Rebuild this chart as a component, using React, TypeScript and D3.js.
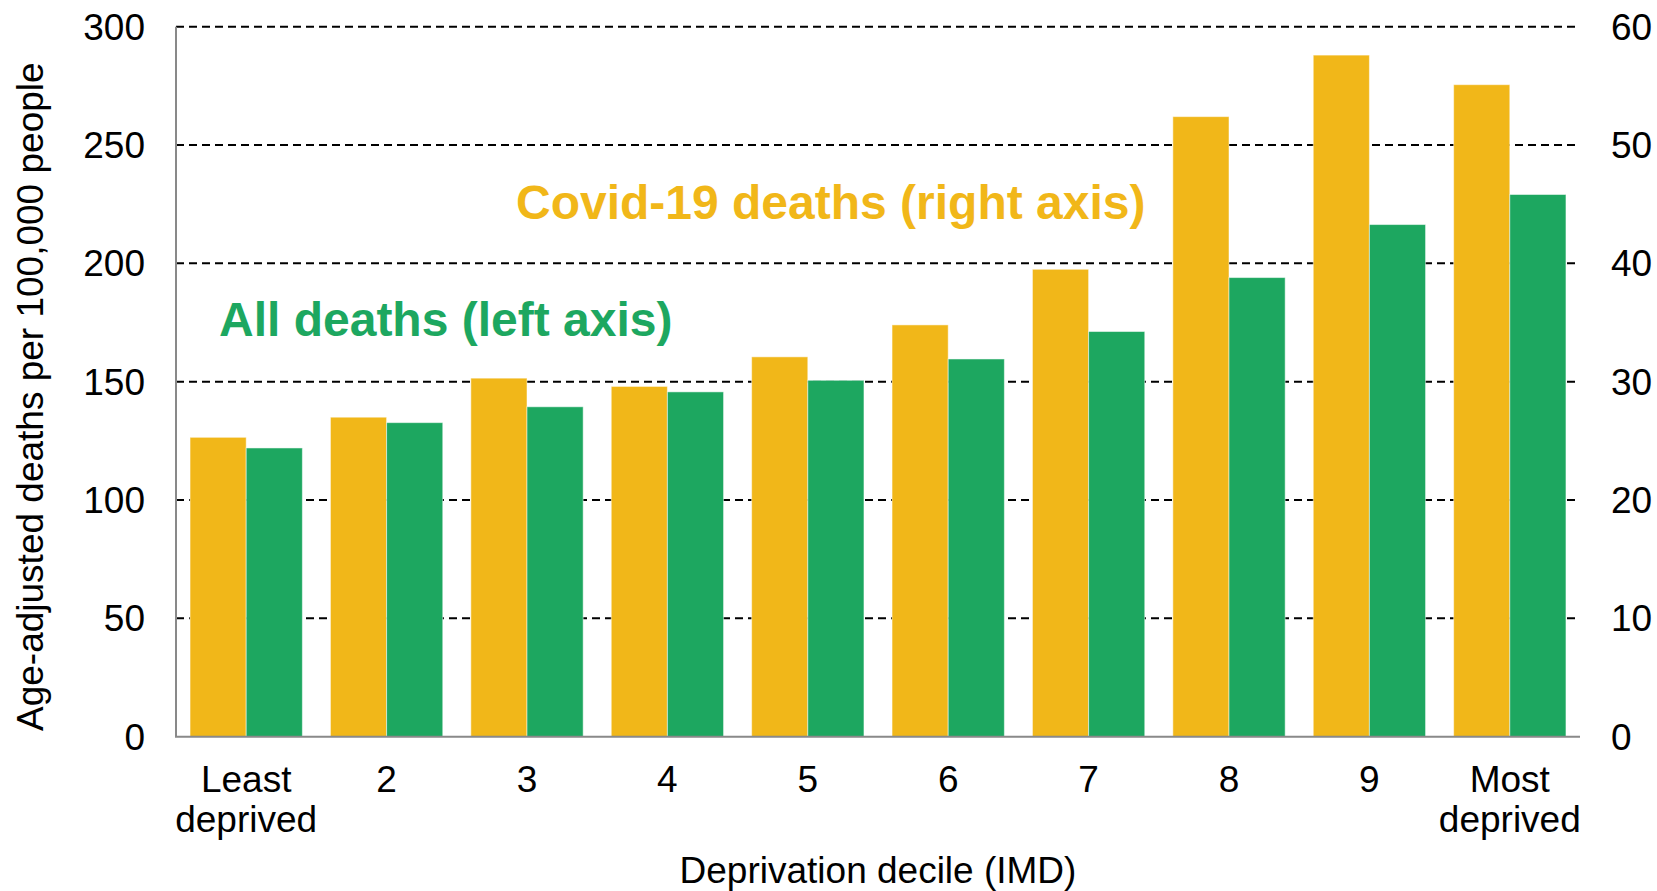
import * as d3 from "d3";

const categories = ["Least deprived", "2", "3", "4", "5", "6", "7", "8", "9", "Most deprived"];
const covidDeaths = [25.3, 27.0, 30.3, 29.6, 32.1, 34.8, 39.5, 52.4, 57.6, 55.1];
const allDeaths = [122, 132.7, 139.4, 145.7, 150.6, 159.6, 171.2, 194, 216.4, 229.1];
const seriesKeys = ["covid", "all"];

const W = 1657;
const H = 891;
const PLOT = { left: 176, right: 1580, top: 26.7, bottom: 736.7 };
const FONT = "'Liberation Sans', Arial, Helvetica, sans-serif";
const YELLOW = "#F1B719";
const GREEN = "#1DA760";

const App = () => {
  const x0 = d3
    .scaleBand<string>()
    .domain(categories)
    .range([PLOT.left, PLOT.right])
    .paddingInner(0.2)
    .paddingOuter(0.1);
  const x1 = d3.scaleBand<string>().domain(seriesKeys).range([0, x0.bandwidth()]);

  const yLeft = d3.scaleLinear().domain([0, 300]).range([PLOT.bottom, PLOT.top]);
  const yRight = d3.scaleLinear().domain([0, 60]).range([PLOT.bottom, PLOT.top]);

  const leftTicks = yLeft.ticks(6);
  const rightTicks = yRight.ticks(6);

  return (
    <div style={{ position: "absolute", left: 0, top: 0 }}>
      <svg width={W} height={H} viewBox={`0 0 ${W} ${H}`} style={{ display: "block", background: "#fff" }}>
        {/* gridlines */}
        {leftTicks
          .filter((t) => t > 0)
          .map((t) => (
            <line
              key={"g" + t}
              x1={PLOT.left}
              x2={PLOT.right}
              y1={yLeft(t)}
              y2={yLeft(t)}
              stroke="#000"
              strokeWidth={2}
              strokeDasharray="8,5"
            />
          ))}

        {/* bars */}
        {categories.map((c, i) => {
          const gx = x0(c) || 0;
          const cy = yRight(covidDeaths[i]);
          const ay = yLeft(allDeaths[i]);
          return (
            <g key={c}>
              <rect
                x={gx + (x1("covid") || 0)}
                y={cy}
                width={x1.bandwidth()}
                height={PLOT.bottom - cy}
                fill={YELLOW}
                stroke="#fff"
                strokeOpacity={0.5}
                strokeWidth={1}
              />
              <rect
                x={gx + (x1("all") || 0)}
                y={ay}
                width={x1.bandwidth()}
                height={PLOT.bottom - ay}
                fill={GREEN}
                stroke="#fff"
                strokeOpacity={0.5}
                strokeWidth={1}
              />
            </g>
          );
        })}

        {/* axes lines */}
        <line x1={PLOT.left} x2={PLOT.left} y1={PLOT.top} y2={PLOT.bottom} stroke="#898989" strokeWidth={2} />
        <line x1={PLOT.left - 1} x2={PLOT.right} y1={PLOT.bottom} y2={PLOT.bottom} stroke="#898989" strokeWidth={2} />

        {/* left ticks */}
        {leftTicks.map((t) => (
          <text
            key={"l" + t}
            x={145}
            y={yLeft(t)}
            dy="0.35em"
            textAnchor="end"
            fontFamily={FONT}
            fontSize={37}
            fill="#000"
          >
            {t}
          </text>
        ))}

        {/* right ticks */}
        {rightTicks.map((t) => (
          <text
            key={"r" + t}
            x={1611}
            y={yRight(t)}
            dy="0.35em"
            textAnchor="start"
            fontFamily={FONT}
            fontSize={37}
            fill="#000"
          >
            {t}
          </text>
        ))}

        {/* x tick labels */}
        {categories.map((c) => {
          const cx = (x0(c) || 0) + x0.bandwidth() / 2;
          const lines = c.split(" ");
          return (
            <text key={"x" + c} x={cx} y={792} textAnchor="middle" fontFamily={FONT} fontSize={37} fill="#000">
              {lines.map((ln, j) => (
                <tspan key={j} x={cx} dy={j === 0 ? 0 : 40}>
                  {ln}
                </tspan>
              ))}
            </text>
          );
        })}

        {/* axis titles */}
        <text
          x={(PLOT.left + PLOT.right) / 2}
          y={883}
          textAnchor="middle"
          fontFamily={FONT}
          fontSize={37}
          fill="#000"
        >
          Deprivation decile (IMD)
        </text>
        <text
          transform={`translate(43, ${(PLOT.top + PLOT.bottom) / 2 + 15}) rotate(-90)`}
          textAnchor="middle"
          fontFamily={FONT}
          fontSize={37}
          fill="#000"
        >
          Age-adjusted deaths per 100,000 people
        </text>

        {/* series labels */}
        <text x={516} y={219} fontFamily={FONT} fontSize={48} fontWeight="bold" fill={YELLOW}>
          Covid-19 deaths (right axis)
        </text>
        <text x={219} y={336} fontFamily={FONT} fontSize={48} fontWeight="bold" fill={GREEN}>
          All deaths (left axis)
        </text>
      </svg>
    </div>
  );
};

export default App;
